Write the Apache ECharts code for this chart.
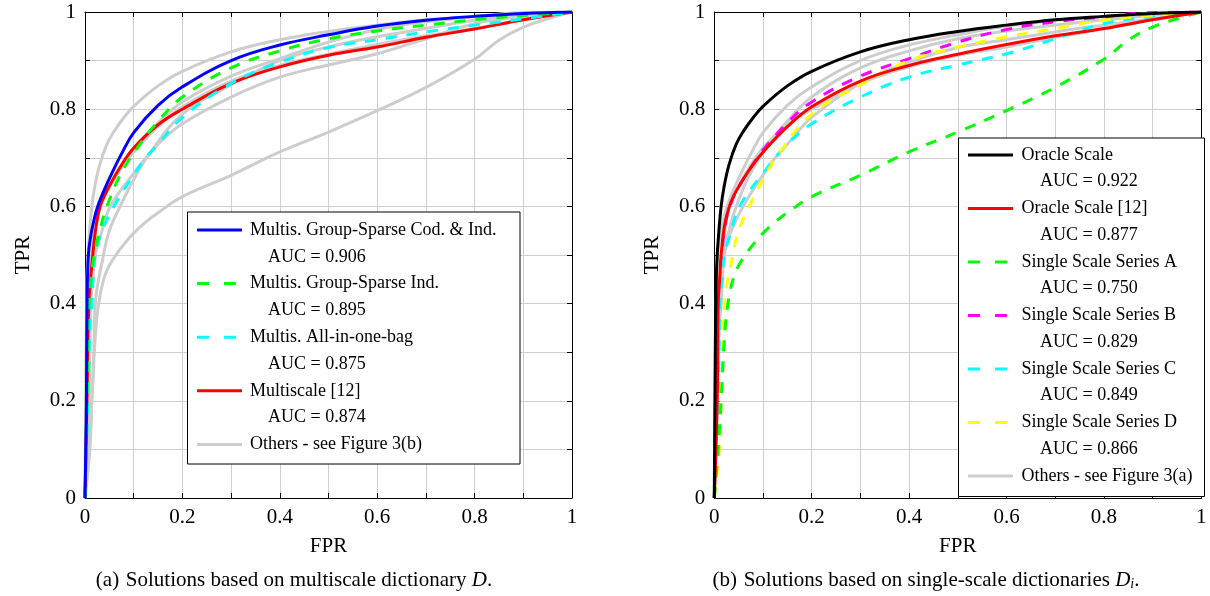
<!DOCTYPE html>
<html><head><meta charset="utf-8">
<script src="https://cdn.jsdelivr.net/npm/echarts@6/dist/echarts.min.js"></script>
<style>html,body{margin:0;padding:0;background:#fff}#c{width:1210px;height:596px}</style>
</head><body><div id="c"></div>
<script>
// ---------- data: panel (a) multiscale solutions ----------
const multisCodInd = [[0,0],[0.003,0.2],[0.004,0.4],[0.007,0.5],[0.012,0.54],[0.018,0.57],[0.026,0.6],[0.04,0.635],[0.056,0.67],[0.075,0.708],[0.1,0.752],[0.15,0.808],[0.2,0.846],[0.3,0.9],[0.4,0.932],[0.5,0.953],[0.6,0.971],[0.7,0.983],[0.8,0.991],[0.9,0.997],[1,1]];
const multisInd = [[0,0],[0.004,0.2],[0.008,0.4],[0.012,0.45],[0.019,0.5],[0.03,0.55],[0.045,0.6],[0.07,0.66],[0.1,0.71],[0.15,0.775],[0.2,0.825],[0.3,0.885],[0.4,0.92],[0.5,0.945],[0.6,0.961],[0.7,0.973],[0.8,0.984],[0.9,0.993],[1,1]];
const multisBag = [[0,0],[0.006,0.2],[0.01,0.35],[0.014,0.4],[0.021,0.5],[0.035,0.55],[0.062,0.605],[0.1,0.665],[0.125,0.7],[0.15,0.728],[0.2,0.783],[0.3,0.853],[0.4,0.897],[0.5,0.927],[0.6,0.943],[0.7,0.959],[0.8,0.973],[0.9,0.986],[1,1]];
const multiscale12 = [[0,0],[0.004,0.2],[0.008,0.4],[0.016,0.5],[0.023,0.56],[0.031,0.6],[0.04,0.622],[0.05,0.642],[0.073,0.682],[0.1,0.72],[0.15,0.768],[0.2,0.8],[0.3,0.853],[0.4,0.887],[0.5,0.911],[0.6,0.928],[0.7,0.948],[0.8,0.965],[0.9,0.984],[1,1]];
// ---------- data: panel (b) single-scale solutions ----------
const oracleScale = [[0,0],[0.002,0.3],[0.004,0.45],[0.006,0.5],[0.0095,0.55],[0.014,0.6],[0.02,0.64],[0.03,0.685],[0.045,0.728],[0.06,0.755],[0.08,0.783],[0.1,0.806],[0.15,0.848],[0.2,0.878],[0.3,0.918],[0.4,0.943],[0.5,0.96],[0.6,0.973],[0.7,0.984],[0.8,0.991],[0.9,0.997],[1,1]];
const oracleScale12 = [[0,0],[0.006,0.2],[0.008,0.4],[0.011,0.45],[0.014,0.5],[0.021,0.56],[0.031,0.6],[0.04,0.622],[0.05,0.64],[0.075,0.68],[0.103,0.715],[0.15,0.764],[0.2,0.805],[0.3,0.858],[0.4,0.89],[0.5,0.913],[0.6,0.933],[0.7,0.951],[0.8,0.966],[0.9,0.984],[1,1]];
const seriesA = [[0,0],[0.008,0.1],[0.014,0.2],[0.021,0.33],[0.028,0.4],[0.04,0.455],[0.055,0.487],[0.08,0.522],[0.1,0.545],[0.125,0.568],[0.15,0.587],[0.2,0.62],[0.3,0.664],[0.4,0.712],[0.5,0.753],[0.6,0.797],[0.7,0.845],[0.8,0.903],[0.85,0.942],[0.9,0.969],[0.95,0.986],[1,1]];
const seriesB = [[0,0],[0.006,0.2],[0.009,0.4],[0.012,0.45],[0.015,0.5],[0.022,0.56],[0.032,0.6],[0.05,0.64],[0.075,0.68],[0.1,0.716],[0.15,0.772],[0.2,0.815],[0.3,0.868],[0.4,0.904],[0.5,0.938],[0.6,0.964],[0.7,0.98],[0.8,0.99],[0.88,0.998],[1,1]];
const seriesC = [[0,0],[0.008,0.2],[0.012,0.4],[0.016,0.45],[0.021,0.5],[0.035,0.55],[0.052,0.6],[0.1,0.668],[0.15,0.728],[0.2,0.77],[0.3,0.825],[0.4,0.866],[0.5,0.891],[0.6,0.914],[0.7,0.945],[0.8,0.976],[0.9,0.991],[1,1]];
const seriesD = [[0,0],[0.01,0.1],[0.014,0.2],[0.018,0.3],[0.021,0.4],[0.038,0.5],[0.05,0.55],[0.072,0.6],[0.1,0.655],[0.13,0.705],[0.2,0.79],[0.3,0.85],[0.4,0.9],[0.5,0.928],[0.6,0.949],[0.7,0.966],[0.8,0.983],[0.9,0.993],[1,1]];
// ---------- text ----------
const tickLabels = ['0','0.2','0.4','0.6','0.8','1'];
const namesA = ['Multis. Group-Sparse Cod. & Ind.','Multis. Group-Sparse Ind.','Multis. All-in-one-bag','Multiscale [12]'];
const aucA = ['0.906','0.895','0.875','0.874'];
const othersA = 'Others - see Figure 3(b)';
const namesB = ['Oracle Scale','Oracle Scale [12]','Single Scale Series A','Single Scale Series B','Single Scale Series C','Single Scale Series D'];
const aucB = ['0.922','0.877','0.750','0.829','0.849','0.866'];
const othersB = 'Others - see Figure 3(a)';
const captionA = ['(a)','Solutions based on multiscale dictionary ','D','.'];
const captionB = ['(b)','Solutions based on single-scale dictionaries ','D','i','.'];

// ---------- styles ----------
const FONT = 'Liberation Serif';
const GRAY = '#cdcdcd';
const dataA = [multisCodInd, multisInd, multisBag, multiscale12];
const colA = ['#0000ff','#00ff00','#00ffff','#ff0000'];
const dashA = [false,true,true,false];
const drawOrderA = [3,2,1,0];
const dataB = [oracleScale, oracleScale12, seriesA, seriesB, seriesC, seriesD];
const colB = ['#000000','#ff0000','#00ff00','#ff00ff','#00ffff','#ffff00'];
const dashB = [false,false,true,true,true,true];
const drawOrderB = [3,4,5,2,1,0];

const grids = [
  {left:85, top:12, width:487, height:486},
  {left:714.3, top:12, width:487, height:486}
];
const labelFmt = v=>{const k=Math.round(v*10); return k%2===0?tickLabels[k/2]:'';};
function xAx(i){
  return {type:'value', gridIndex:i, min:0, max:1, interval:0.1,
    name:'FPR', nameLocation:'middle', nameGap:38,
    nameTextStyle:{fontFamily:FONT, fontSize:21, color:'#000'},
    axisLine:{show:true, onZero:false, lineStyle:{color:'#000', width:1}},
    axisTick:{show:true, inside:true, length:5, lineStyle:{color:'#000'}},
    axisLabel:{fontFamily:FONT, fontSize:21, color:'#000', margin:9, formatter:labelFmt},
    splitLine:{show:true, lineStyle:{color:'#cfcfcf', width:1}}
  };
}
function yAx(i){
  return {type:'value', gridIndex:i, min:0, max:1, interval:0.1,
    name:'TPR', nameLocation:'middle', nameGap:51, nameRotate:90,
    nameTextStyle:{fontFamily:FONT, fontSize:21, color:'#000'},
    axisLine:{show:true, onZero:false, lineStyle:{color:'#000', width:1}},
    axisTick:{show:true, inside:true, length:5, lineStyle:{color:'#000'}},
    axisLabel:{fontFamily:FONT, fontSize:21, color:'#000', margin:9, formatter:labelFmt},
    splitLine:{show:true, lineStyle:{color:'#cfcfcf', width:1}}
  };
}
function frameAx(i, isX){
  return {type:'value', gridIndex:i, min:0, max:1, interval:0.1, position:isX?'top':'right',
    axisLine:{show:true, onZero:false, lineStyle:{color:'#000', width:1}},
    axisTick:{show:true, inside:true, length:5, lineStyle:{color:'#000'}},
    axisLabel:{show:false}, splitLine:{show:false}};
}

const series = [];
function line(data, color, dashed, xi, z){
  series.push({type:'line', data:data, xAxisIndex:xi, yAxisIndex:xi, showSymbol:false,
    smooth:0.4, z:z, silent:true,
    lineStyle:{color:color, width:3, type:dashed?[11,10]:'solid', cap:'butt', join:'round'}});
}
dataB.forEach(d=>line(d, GRAY, false, 0, 2));
drawOrderA.forEach((k,j)=>line(dataA[k], colA[k], dashA[k], 0, 3+j));
dataA.forEach(d=>line(d, GRAY, false, 1, 2));
drawOrderB.forEach((k,j)=>line(dataB[k], colB[k], dashB[k], 1, 3+j));

function legendBox(x0, y0, w, h, names, aucs, colors, dashes, others, lineX, lineW, textX, aucX, rowY, pitch){
  const ch = [{type:'rect', z:100, shape:{x:x0, y:y0, width:w, height:h}, style:{fill:'#fff', stroke:'#000', lineWidth:1}}];
  let y = rowY;
  const addLine = (c, dashed, yy) => ch.push({type:'line', z:101, shape:{x1:lineX, y1:yy, x2:lineX+lineW, y2:yy},
    style:{stroke:c, lineWidth:3, lineDash:dashed?[12,15]:null}});
  const addText = (t, xx, yy) => ch.push({type:'text', z:101, x:xx, y:yy,
    style:{text:t, fontFamily:FONT, fontSize:18, fill:'#000', verticalAlign:'middle', align:'left'}});
  names.forEach((n,i)=>{
    addLine(colors[i], dashes[i], y); addText(n, textX, y); y += pitch;
    addText('AUC = ' + aucs[i], aucX, y); y += pitch;
  });
  addLine(GRAY, false, y); addText(others, textX, y);
  return {type:'group', z:100, children:ch};
}
function caption(cx, parts, sub){
  return {type:'text', x:cx, y:580, z:100,
    style:{text: sub ? `{n|${parts[0]}}  {n|${parts[1]}}{i|${parts[2]}}{s|${parts[3]}}{n|${parts[4]}}`
                     : `{n|${parts[0]}}  {n|${parts[1]}}{i|${parts[2]}}{n|${parts[3]}}`,
      align:'center', verticalAlign:'middle',
      rich:{n:{fontFamily:FONT, fontSize:21, fill:'#000'}, i:{fontFamily:FONT, fontSize:21, fontStyle:'italic', fill:'#000'},
            s:{fontFamily:FONT, fontSize:14, fontStyle:'italic', fill:'#000', verticalAlign:'bottom', padding:[8,0,0,0]}}}};
}

const option = {
  animation:false,
  backgroundColor:'#fff',
  grid: grids,
  xAxis:[xAx(0), xAx(1), frameAx(0,true), frameAx(1,true)],
  yAxis:[yAx(0), yAx(1), frameAx(0,false), frameAx(1,false)],
  series: series,
  graphic:[
    legendBox(187.5, 212, 332.5, 252, namesA, aucA, colA, dashA, othersA, 197, 45, 250, 268, 230, 26.8),
    legendBox(958.5, 138, 246, 358.5, namesB, aucB, colB, dashB, othersB, 968, 45, 1021.5, 1040, 155, 26.75),
    caption(294, captionA, false),
    caption(926, captionB, true)
  ]
};
const chart = echarts.init(document.getElementById('c'), null, {renderer:'canvas'});
chart.setOption(option);
</script></body></html>
